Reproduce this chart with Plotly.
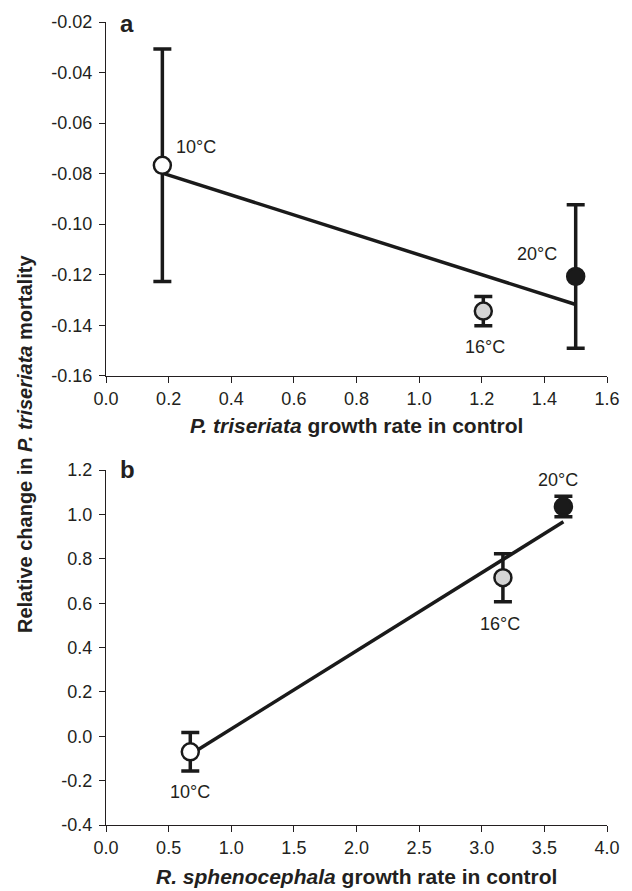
import plotly.graph_objects as go

# ---------------- data ----------------
temps = ["10°C", "16°C", "20°C"]
marker_fill = ["white", "#d4d4d4", "#1a1a1a"]

# panel a: P. triseriata
a_growth = [0.18, 1.205, 1.50]
a_change = [-0.0767, -0.1344, -0.1207]
a_err = [0.046, 0.0058, 0.0284]
a_fit_x = [0.18, 1.50]
a_fit_y = [-0.0798, -0.1318]

# panel b: R. sphenocephala
b_growth = [0.673, 3.169, 3.652]
b_change = [-0.070, 0.715, 1.036]
b_err = [0.087, 0.108, 0.046]
b_fit_x = [0.673, 3.652]
b_fit_y = [-0.082, 0.967]

a_xticks = [0.0, 0.2, 0.4, 0.6, 0.8, 1.0, 1.2, 1.4, 1.6]
a_yticks = [-0.16, -0.14, -0.12, -0.10, -0.08, -0.06, -0.04, -0.02]
a_ytext = ["-0.16", "-0.14", "-0.12", "-0.10", "-0.08", "-0.06", "-0.04", "-0.02"]
b_xticks = [0.0, 0.5, 1.0, 1.5, 2.0, 2.5, 3.0, 3.5, 4.0]
b_yticks = [-0.4, -0.2, 0.0, 0.2, 0.4, 0.6, 0.8, 1.0, 1.2]
b_ytext = ["-0.4", "-0.2", "0.0", "0.2", "0.4", "0.6", "0.8", "1.0", "1.2"]

# ---------------- style ----------------
FONT = "Arial, Liberation Sans, Helvetica, sans-serif"
INK = "#1a1a1a"
AX = "#231f20"

fig = go.Figure()

def add_panel(xs, ys, errs, fx, fy, xa, ya):
    fig.add_trace(go.Scatter(x=fx, y=fy, mode="lines", xaxis=xa, yaxis=ya,
                             line=dict(color=INK, width=3.5), showlegend=False,
                             hoverinfo="skip"))
    fig.add_trace(go.Scatter(x=xs, y=ys, mode="markers", xaxis=xa, yaxis=ya,
                             error_y=dict(type="data", array=errs, color=INK,
                                          thickness=3.5, width=9),
                             marker=dict(size=17, color=marker_fill, symbol="circle",
                                         line=dict(color=INK, width=2.5)),
                             showlegend=False))

add_panel(a_growth, a_change, a_err, a_fit_x, a_fit_y, "x", "y")
add_panel(b_growth, b_change, b_err, b_fit_x, b_fit_y, "x2", "y2")

axis_common = dict(showline=True, linecolor=AX, linewidth=1.3, ticks="outside",
                   ticklen=6, tickwidth=1.3, tickcolor=AX, showgrid=False,
                   zeroline=False, tickfont=dict(size=18, color=AX, family=FONT))

fig.update_layout(
    width=632, height=891,
    margin=dict(l=106, r=16, t=20, b=66),
    paper_bgcolor="white", plot_bgcolor="white",
    font=dict(family=FONT, color=AX),
    xaxis=dict(domain=[0, 1], range=[0, 1.6], tickvals=a_xticks, tickformat=".1f",
               anchor="y", **axis_common),
    yaxis=dict(domain=[0.5594, 1], range=[-0.16, -0.02], tickvals=a_yticks,
               ticktext=a_ytext, anchor="x", ticklabelstandoff=3, **axis_common),
    xaxis2=dict(domain=[0, 1], range=[0, 4.0], tickvals=b_xticks, tickformat=".1f",
                anchor="y2", **axis_common),
    yaxis2=dict(domain=[0, 0.4419], range=[-0.4, 1.2], tickvals=b_yticks,
                ticktext=b_ytext, anchor="x2", ticklabelstandoff=3, **axis_common),
)

# temperature labels (pixel offsets from their points)
a_shift = [(34, 18), (2, -36), (-39, 22)]
b_shift = [(0, -40), (-3, -46), (-5, 27)]
for xs, ys, shifts, xr, yr in [(a_growth, a_change, a_shift, "x", "y"),
                               (b_growth, b_change, b_shift, "x2", "y2")]:
    for t, x, y, (dx, dy) in zip(temps, xs, ys, shifts):
        fig.add_annotation(x=x, y=y, xref=xr, yref=yr, text=t, showarrow=False,
                           xshift=dx, yshift=dy, xanchor="center", yanchor="middle",
                           font=dict(size=18, color=AX, family=FONT))

# panel letters
fig.add_annotation(x=0.0235, y=0.9984, xref="paper", yref="paper", text="<b>a</b>",
                   showarrow=False, xanchor="left", yanchor="middle",
                   font=dict(size=24, color=AX, family=FONT))
fig.add_annotation(x=0.0235, y=0.4426, xref="paper", yref="paper", text="<b>b</b>",
                   showarrow=False, xanchor="left", yanchor="middle",
                   font=dict(size=24, color=AX, family=FONT))

# axis titles
fig.add_annotation(x=0.5, y=0.4981, xref="paper", yref="paper",
                   text="<b><i>P. triseriata</i> growth rate in control</b>",
                   showarrow=False, xanchor="center", yanchor="middle",
                   font=dict(size=21, color=AX, family=FONT))
fig.add_annotation(x=0.5, y=-0.0646, xref="paper", yref="paper",
                   text="<b><i>R. sphenocephala</i> growth rate in control</b>",
                   showarrow=False, xanchor="center", yanchor="middle",
                   font=dict(size=21, color=AX, family=FONT))
fig.add_annotation(x=-0.1627, y=0.475, xref="paper", yref="paper",
                   text="<b>Relative change in <i>P. triseriata</i> mortality</b>",
                   textangle=-90, showarrow=False, xanchor="center", yanchor="middle",
                   font=dict(size=20, color=AX, family=FONT))

fig.write_html("out.html",
               config={"displayModeBar": False},
               post_script="document.body.style.margin='0';"
                           "document.body.style.overflow='hidden';")
